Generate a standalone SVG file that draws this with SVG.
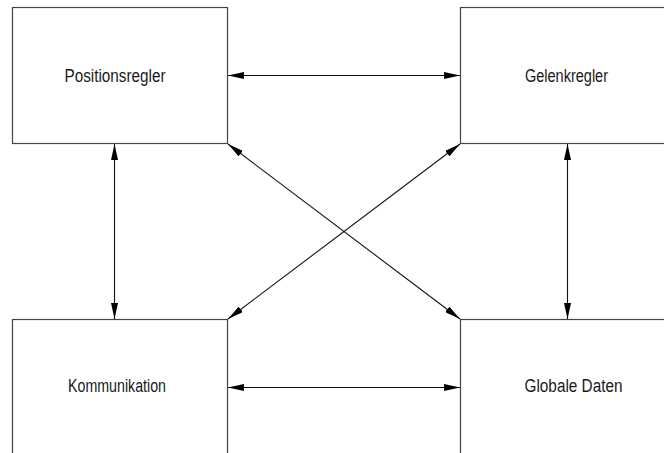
<svg xmlns="http://www.w3.org/2000/svg" width="664" height="453" viewBox="0 0 664 453">
  <defs>
    <marker id="head" viewBox="0 0 16 7" refX="16" refY="3.5" markerWidth="16" markerHeight="7" markerUnits="userSpaceOnUse" orient="auto-start-reverse">
      <path d="M0,0 L16,3.5 L0,7 z" fill="#000"/>
    </marker>
  </defs>
  <style>
    .box { fill: #fff; stroke: #444; stroke-width: 1.2; }
    .lbl { font-family: "Liberation Sans", Arial, sans-serif; font-size: 18px; fill: #1a1a1a; }
    .link { stroke: #111; stroke-width: 1.1; fill: none; marker-start: url(#head); marker-end: url(#head); }
  </style>
  <rect width="664" height="453" fill="#fff"/>

  <g id="positionsregler">
    <rect class="box" x="12.5" y="7.5" width="215" height="136"/>
    <text class="lbl" x="64.5" y="82" textLength="101" lengthAdjust="spacingAndGlyphs">Positionsregler</text>
  </g>
  <g id="gelenkregler">
    <rect class="box" x="460.5" y="7.5" width="260" height="136"/>
    <text class="lbl" x="525" y="82" textLength="83" lengthAdjust="spacingAndGlyphs">Gelenkregler</text>
  </g>
  <g id="kommunikation">
    <rect class="box" x="12.5" y="319.5" width="215" height="200"/>
    <text class="lbl" x="68" y="392" textLength="98" lengthAdjust="spacingAndGlyphs">Kommunikation</text>
  </g>
  <g id="globale-daten">
    <rect class="box" x="460.5" y="319.5" width="260" height="200"/>
    <text class="lbl" x="524.5" y="392" textLength="98" lengthAdjust="spacingAndGlyphs">Globale Daten</text>
  </g>

  <g id="connectors">
    <line class="link" x1="228" y1="75.5" x2="460" y2="75.5"/>
    <line class="link" x1="228" y1="387.5" x2="460" y2="387.5"/>
    <line class="link" x1="114.5" y1="144" x2="114.5" y2="319"/>
    <line class="link" x1="567.5" y1="144" x2="567.5" y2="319"/>
    <line class="link" x1="228" y1="144" x2="460" y2="319"/>
    <line class="link" x1="460" y1="144" x2="228" y2="319"/>
  </g>
</svg>
